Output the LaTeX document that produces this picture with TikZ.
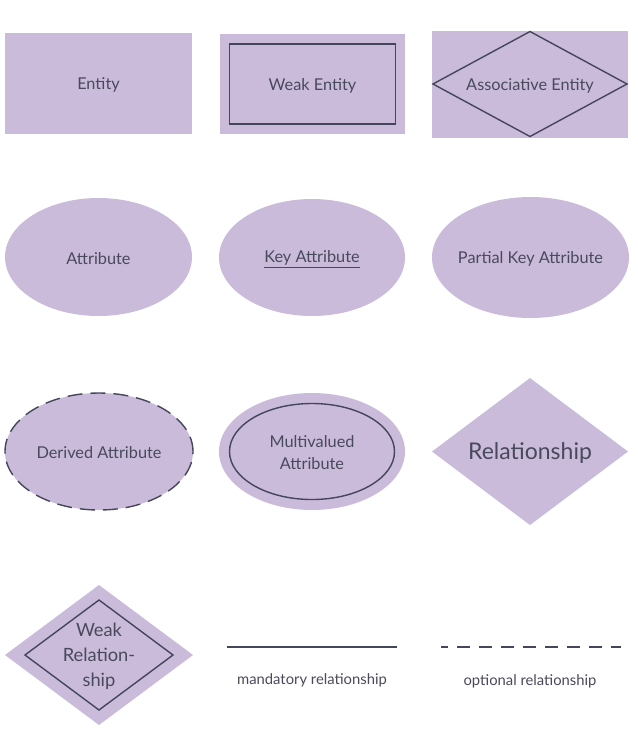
\documentclass[tikz,border=0pt]{standalone}
\usepackage{fontspec}
\setmainfont{Lato}
\usepackage{tikz}
\usetikzlibrary{positioning, shapes, shapes.geometric}
\definecolor{erfill}{HTML}{CBBBDB}
\definecolor{erline}{HTML}{44475A}
\definecolor{ertext}{HTML}{484A5C}
\tikzset{erbase/.style={inner sep=0pt, outer sep=0pt, align=center, text=ertext, font=\fontsize{16.3}{22}\selectfont}}
\tikzset{erbox/.style={erbase, rectangle, fill=erfill, draw=none}}
\tikzset{erell/.style={erbase, ellipse, fill=erfill, draw=none}}
\tikzset{erdia/.style={erbase, diamond, fill=erfill, draw=none}}
\tikzset{erstroke/.style={draw=erline, line width=1.4pt}}
\tikzset{ertag/.style={text=ertext, inner sep=0pt, font=\fontsize{14.8}{17}\selectfont}}
\tikzset{ermid/.style={label={[erbase, yshift=-1.5pt]center:#1}}}

\begin{document}
\begin{tikzpicture}[x=1pt, y=-1pt]
                \useasboundingbox (0,0) rectangle (638,732);
                % row 1
                \node[erbox, minimum width=187, minimum height=101, ermid=Entity] (ent) at (98.5,83.5) {};
                \node[erbox, minimum width=185, minimum height=100] (went) at (312.5,84) {};
                \node[erbase, rectangle, erstroke, minimum width=166, minimum height=80, ermid={Weak Entity}] (wentin) at (went.center) {};
                \node[erbox, minimum width=196, minimum height=107] (aent) at (530,84) {};
                \node[erbase, diamond, erstroke, minimum width=194, minimum height=105,
                    ermid={Associative Entity}] (aentin) at (aent.center) {};
                %
                % row 2
                \node[erell, minimum width=187, minimum height=118, ermid=Attribute] (att) at (98.5,257) {};
                \node[erell, minimum width=186, minimum height=117, ermid={\underline{Key Attribute}}] (katt) at (312,257.5) {};
                \node[erell, minimum width=197, minimum height=121, ermid={Partial Key Attribute}] (pkatt) at (530.5,257.5) {};
                %
                % row 3
                \node[erell, erstroke, dash pattern=on 15pt off 8pt, minimum width=188, minimum height=117,
                    ermid={Derived Attribute}] (datt) at (99,451.5) {};
                \node[erell, minimum width=186, minimum height=117] (matt) at (312,451.5) {};
                \node[erbase, ellipse, erstroke, minimum width=165, minimum height=96,
                    ermid={Multivalued\\Attribute}] (mattin) at (matt.center) {};
                \node[erdia, minimum width=196, minimum height=147,
                    label={[erbase, yshift=-1.5pt, font=\fontsize{23}{26}\selectfont]center:Relationship}] (rel) at (530,451.5) {};
                %
                % row 4
                \node[erdia, minimum width=188, minimum height=140] (wrel) at (99,655) {};
                \node[erbase, diamond, erstroke, minimum width=148, minimum height=110,
                    label={[erbase, yshift=-1.5pt, font=\fontsize{18.3}{25}\selectfont]center:Weak\\Relation-\\ship}] (wrelin) at (wrel.center) {};
                %
                \coordinate (ma) at (227,647);
                \coordinate (mb) at (397,647);
                \draw[erstroke, line width=1.2pt] (ma) -- (mb);
                \node[ertag] (mtag) at (312,680) {mandatory relationship};
                %
                \coordinate (oa) at (441,647);
                \coordinate (ob) at (621,647);
                \draw[erstroke, line width=1.2pt, dash pattern=on 13pt off 9pt, dash phase=6pt] (oa) -- (ob);
                \node[ertag] (otag) at (530,681) {optional relationship};
            \end{tikzpicture}
\end{document}
